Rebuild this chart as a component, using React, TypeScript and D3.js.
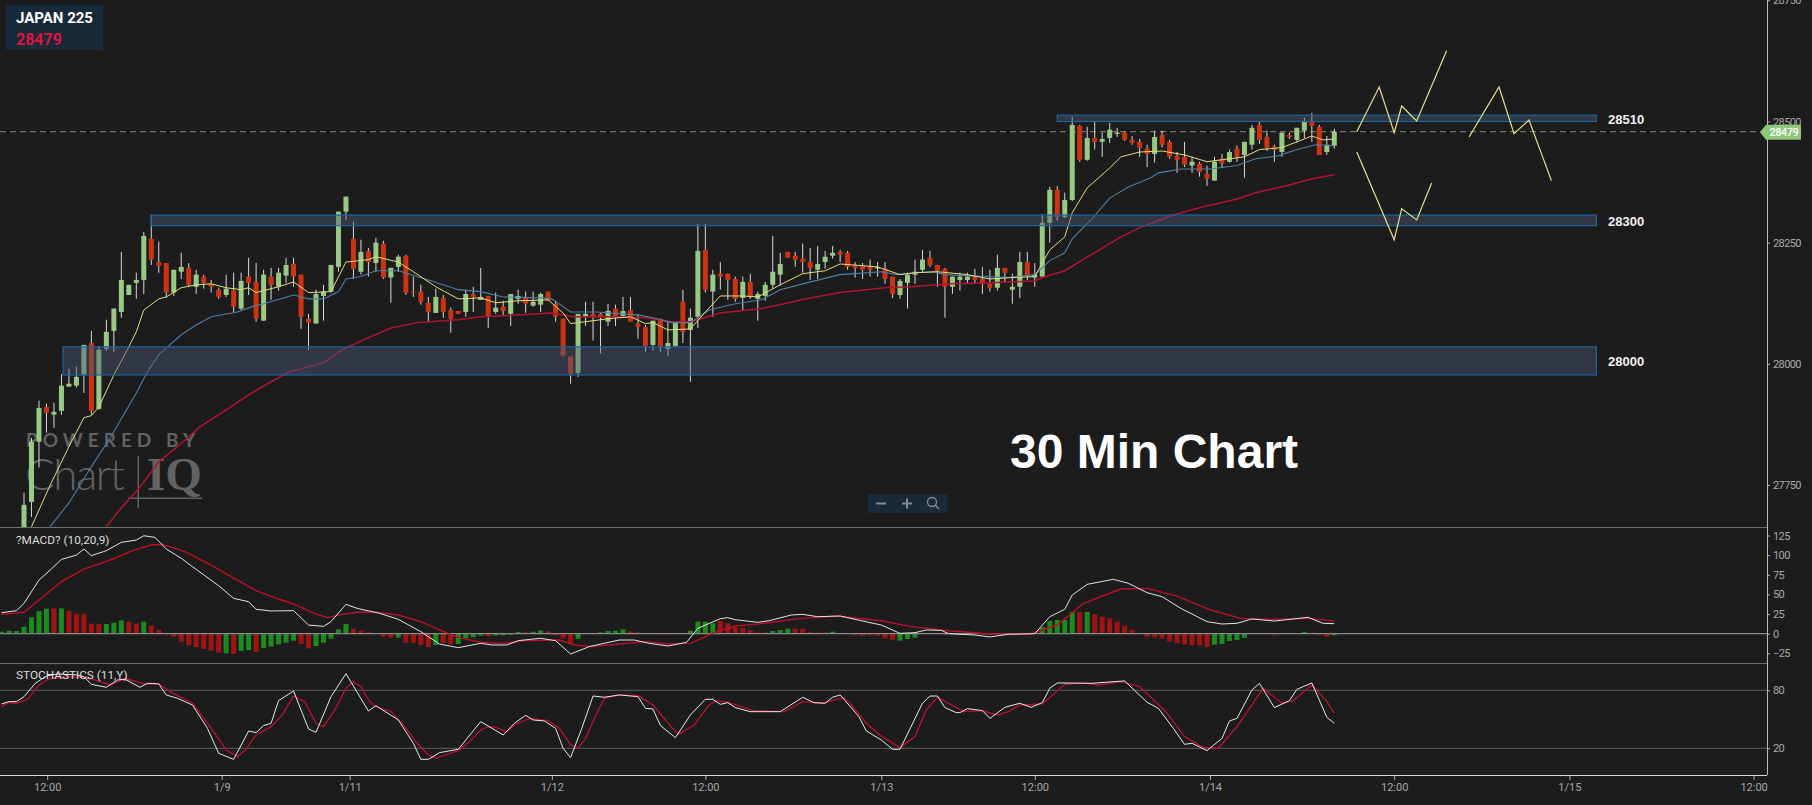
import React, { useEffect, useRef } from 'react'
import * as d3 from 'd3'

const opens = [27647,27715,27839,27911,27895,27903,27953,27955,27977,28043,
  27907,28031,28068,28107,28142,28167,28173,28258,28210,28208,
  28147,28190,28198,28159,28180,28165,28153,28142,28151,28114,
  28180,28169,28089,28180,28159,28182,28206,28184,28093,28083,
  28140,28149,28200,28314,28258,28190,28233,28208,28248,28178,
  28200,28223,28149,28149,28126,28105,28136,28111,28109,28107,
  28144,28132,28140,28107,28118,28103,28134,28136,28120,28122,
  28149,28124,28093,28015,27981,28097,28103,28103,28087,28114,
  28099,28111,28083,28076,28039,28093,28031,28037,28128,28070,
  28097,28235,28149,28186,28186,28175,28136,28169,28134,28140,
  28163,28184,28231,28223,28217,28210,28194,28210,28223,28231,
  28229,28204,28202,28200,28199,28196,28180,28142,28167,28184,
  28194,28219,28204,28196,28159,28173,28173,28180,28175,28165,
  28157,28198,28153,28159,28210,28178,28180,28291,28359,28303,
  28338,28491,28421,28466,28458,28466,28477,28477,28462,28458,
  28444,28433,28472,28458,28429,28427,28409,28413,28392,28378,
  28423,28417,28444,28431,28452,28493,28468,28448,28437,28472,
  28462,28481,28501,28489,28437,28450]

const highs = [27734,27847,27924,27918,27920,27979,27990,27994,28039,28068,
  28037,28091,28114,28231,28163,28188,28272,28307,28252,28208,
  28194,28229,28208,28194,28184,28173,28157,28184,28188,28188,
  28219,28208,28194,28198,28198,28219,28219,28184,28103,28153,
  28163,28204,28314,28345,28293,28256,28239,28260,28254,28198,
  28225,28225,28180,28163,28138,28155,28142,28116,28109,28153,
  28159,28198,28140,28147,28130,28144,28153,28149,28149,28147,
  28149,28130,28093,28015,28103,28128,28128,28105,28124,28122,
  28138,28138,28101,28080,28089,28093,28087,28087,28153,28114,
  28289,28289,28194,28210,28186,28180,28180,28186,28149,28169,
  28264,28229,28231,28231,28248,28239,28243,28233,28243,28235,
  28233,28210,28208,28215,28210,28210,28180,28175,28188,28215,
  28235,28233,28204,28198,28180,28188,28188,28196,28200,28194,
  28225,28198,28186,28231,28231,28208,28309,28365,28367,28353,
  28510,28493,28489,28499,28477,28497,28487,28479,28470,28464,
  28452,28481,28481,28462,28437,28458,28427,28417,28409,28427,
  28433,28442,28450,28458,28493,28501,28481,28452,28477,28477,
  28487,28508,28518,28493,28470,28485]

const lows = [27637,27684,27786,27858,27868,27895,27953,27951,27940,27895,
  27905,28027,28025,28095,28142,28134,28144,28204,28188,28136,
  28140,28175,28159,28144,28155,28147,28134,28138,28107,28111,
  28142,28087,28089,28132,28151,28167,28159,28072,28029,28083,
  28089,28147,28190,28297,28175,28184,28180,28190,28175,28126,
  28190,28142,28138,28122,28087,28105,28095,28064,28103,28097,
  28107,28132,28074,28103,28099,28078,28124,28105,28118,28107,
  28130,28087,28017,27959,27973,28078,28048,28021,28078,28078,
  28097,28087,28052,28025,28027,28025,28017,28035,28043,27963,
  28074,28147,28097,28153,28132,28128,28111,28134,28089,28130,
  28157,28161,28219,28200,28188,28173,28175,28196,28217,28210,
  28194,28178,28175,28180,28180,28165,28136,28134,28114,28165,
  28188,28200,28159,28095,28144,28151,28165,28167,28144,28149,
  28151,28169,28124,28136,28173,28159,28178,28250,28295,28301,
  28336,28417,28419,28442,28427,28456,28468,28460,28452,28427,
  28406,28415,28446,28423,28394,28406,28394,28386,28367,28378,
  28406,28415,28417,28384,28442,28454,28439,28417,28427,28464,
  28456,28466,28458,28431,28431,28444]

const closes = [27709,27839,27909,27899,27901,27955,27959,27973,28039,27903,
  28029,28066,28114,28173,28163,28173,28264,28215,28202,28147,
  28194,28200,28163,28184,28167,28159,28138,28155,28118,28171,
  28167,28093,28184,28163,28188,28204,28180,28097,28085,28144,
  28149,28204,28314,28345,28196,28231,28210,28250,28178,28198,
  28221,28147,28148,28128,28107,28138,28107,28093,28103,28144,
  28138,28138,28097,28116,28109,28144,28140,28124,28128,28144,
  28130,28097,28017,27979,28103,28103,28097,28095,28109,28097,
  28109,28087,28076,28037,28089,28035,28043,28087,28066,28095,
  28233,28153,28184,28180,28173,28134,28169,28138,28144,28163,
  28190,28206,28219,28215,28210,28198,28206,28221,28229,28225,
  28200,28198,28194,28194,28199,28175,28144,28171,28184,28190,
  28215,28204,28192,28159,28180,28180,28180,28173,28165,28157,
  28198,28188,28159,28210,28182,28184,28291,28359,28303,28338,
  28493,28421,28466,28458,28464,28483,28477,28462,28456,28446,
  28433,28468,28452,28427,28421,28411,28417,28396,28382,28417,
  28413,28437,28427,28458,28487,28462,28446,28442,28477,28468,
  28487,28499,28491,28431,28452,28479]

const yellowBars = [1,3.5,6,8,9,10,12,14,15,16,18,19,21,23,25,27,29,30,31,34,36,38,41,43,46,47,50,52,55,58,61,63,66,70,72,73,75,78,81,83,84,86,89,91,93,96,98,101,104,107,109,114,117,119,122,126,129,132,135,136,137,139,140,142,145,146.5,149,152,155,158,160,163,165,168,170,172,173.5,175]
const yellowValues = [27664,27750,27829,27889,27893,27911,27977,28035,28066,28111,28134,28138,28157,28163,28165,28157,28153,28157,28147,28159,28169,28147,28149,28210,28215,28221,28210,28190,28159,28134,28136,28126,28130,28132,28105,28083,28087,28093,28097,28083,28085,28070,28072,28107,28140,28140,28138,28163,28186,28192,28206,28200,28184,28188,28190,28184,28175,28178,28180,28208,28235,28262,28312,28363,28404,28427,28437,28439,28431,28417,28421,28427,28442,28446,28458,28470,28462,28464]

const blueBars = [3.5,6,9,11.5,15,16.5,18,21,23,25,28.5,30.5,32.5,36,38,40,42,43,45,47,50,54,58,61,64,69,70.5,73,76.5,82,84,86.5,89,91.5,95,98.5,101,104,109,114.5,116.5,119,121.5,123,128.5,131.5,135,137,139,140,142.5,145,147.5,150.5,151.5,154.5,158.5,162,164.5,167.5,170,172.5,175]
const blueValues = [27664,27713,27788,27847,27940,27984,28019,28060,28080,28097,28107,28118,28126,28142,28134,28134,28149,28175,28180,28192,28192,28173,28153,28149,28138,28136,28134,28107,28107,28101,28095,28085,28085,28111,28124,28132,28153,28165,28184,28190,28184,28188,28190,28184,28180,28178,28184,28213,28229,28258,28297,28342,28365,28384,28394,28402,28402,28409,28423,28429,28442,28452,28450]

const redBars = [11,13,15.5,18,20.5,23.5,27,30,33,35.5,40,42.5,46,49,52.5,58,61,66.5,70.5,73.5,78.5,83,86.5,89,93,98.5,101.5,105,109,115,118.5,123.5,128.5,135,136,139,142.5,146.5,149,153.5,157,162,164.5,168.5,172,175]
const redValues = [27664,27703,27746,27798,27829,27870,27905,27936,27963,27984,28002,28029,28054,28074,28085,28091,28097,28101,28105,28097,28097,28095,28087,28087,28105,28114,28124,28136,28147,28157,28159,28165,28167,28171,28178,28192,28225,28262,28281,28307,28322,28340,28353,28367,28382,28390]

// hand drawn forecast paths
const forecastA: [number, number][] = [[178,28479],[181,28571],[183,28477],[184,28532],[186,28501],[190,28646]]
const forecastB: [number, number][] = [[193,28468],[197,28571],[199,28475],[201,28503],[204,28378]]
const forecastC: [number, number][] = [[178,28437],[183,28256],[184,28320],[186,28297],[188,28373]]

const zoneLabels = ['28510', '28300', '28000']
const zoneStarts = [138, 17, 5.2]
const zoneTops = [28513, 28307, 28035]
const zoneBottoms = [28500, 28285, 27977]
const zoneEnd = 210

const macdBars = [-3,-1,0,2,3.5,5,7,8,9,11,13,15,16,17.5,19,21,22.5,26,28,30,31,33,36,38,40,41,43,44.5,47.5,50,53,55.5,58,61,62.5,64.5,66,69,71,73,75.5,77.5,79.5,81.5,83.5,86,88.5,90,93,94,95,98,99.5,102.5,104,106,109,112,114.5,117,119,120.5,122.5,123.5,127,129,131.5,135,137,139,140,142,145.5,147.5,150,152,154.5,158,160,162,164,167,171.5,173.5,175]
const macdValues = [26.7,29.3,38.6,68.3,81,94.6,100,107.8,99.3,105.7,116.3,119.2,124.7,122.6,107.8,95.9,85.3,61.1,45,40.7,31,28.9,29.3,11,9.3,15.3,37.3,32.2,25.9,18.2,2.5,-13.2,-17.8,-12.3,-14.4,-14.4,-8.9,-5.9,-8.9,-25.9,-16.5,-12.3,-8.1,-8.1,-12.3,-15.7,-11,6.8,19.1,20.4,17.8,14.4,16.5,23.8,24.6,21.6,22.5,16.1,11,0.4,1.3,4.7,4.2,0,-1.7,-4.2,-0.8,0,21.6,31,49.2,62.8,69.2,64.1,52.2,47.1,32.2,15.3,12.3,13.2,18.7,16.1,20.8,13.2,12.7]

const signalBars = [-3,0,2,5,8,11.5,14.5,17,18.5,21.5,25,28.5,31,34,36,38.5,40.5,42.5,44.5,47,50,53,55.5,58,61,64,67,71.5,73.5,76,79.5,83,86,89,92.5,95,99,103.5,108.5,114.5,118.5,123.5,129,134.5,138,141.5,146.5,150,154,158.5,162.5,166.5,171.5,175]
const signalValues = [24.6,27.2,42.9,66.2,82.3,93.8,105.7,112.9,113.7,104.4,87.4,68.3,54.7,44.1,37.8,26.7,20.4,24.6,27.2,27.2,23.8,15.3,4.7,-4.7,-11,-12.3,-8.9,-8.1,-14.4,-16.5,-13.2,-10.2,-13.2,-12.3,2.5,9.8,13.2,19.1,22.5,16.5,8.9,3.8,-0.4,-0.4,11,38.6,56.9,57.7,47.9,30.1,19.5,18.2,19.5,16.1]

// histogram runs from bar -3 to bar 175
const histStart = -3
const histValues = [2.5,3.8,3.4,
  8.9,20.8,28.9,31.8,32.2,32.2,29.3,25,25,12.7,
  12.3,12.3,14,17,15.3,12.7,15.3,10.2,5.1,-0.8,
  -3.8,-10.2,-14.9,-17,-19.5,-21.6,-24.2,-25,-25.9,-22,
  -20.8,-23.3,-18.2,-16.5,-13.6,-11.5,-8.9,-13.2,-18.7,-15.7,
  -11.5,-6.4,5.5,12.3,6.4,3.8,1.7,0,-3.8,-5.1,
  -5.1,-11.5,-11.5,-14.4,-17,-14.4,-11.9,-13.6,-13.2,-5.9,
  -4.7,-2.5,-3.4,-2.1,-2.1,-1.3,2.1,1.7,2.5,4.2,
  3,-1.7,-5.9,-12.3,-6.4,0,0,1.7,3.4,3.8,
  5.5,3,1.7,0,0,-0.8,-0.8,0,0,3.8,
  15.3,15.3,13.2,16.1,13.2,8.1,7.6,4.7,1.7,1.7,
  3.4,4.7,6.4,6.4,6.4,2.1,1.7,1.7,2.5,0,
  0,-1.7,-2.5,-1.7,-2.5,-5.9,-8,-8.9,-6.8,-5.1,
  0,0,0,-1.7,-1,-1,-1,-0.5,0,0,
  0,0,0,0,0,0,8.1,16.1,17.4,17.4,
  27.6,27.6,27.6,24.6,21.6,19.5,15.3,10.2,4.7,0,
  -3.8,-4.7,-5.9,-10.2,-12.3,-13.6,-14.9,-14.9,-17,-14,
  -13.2,-9.3,-8.1,-5.5,0,0,0,-1.3,0,0,
  0,2.1,1.3,-1.3,-3.8,-2.1]
const histColors = 'ggg' + 'ggggrgrrrr' + 'rgggrrgrrr' + 'rrrrrrrgrg' + 'grgggggrrg' + 'ggggrrrrrr' +
  'grrrrgrrgg' + 'ggrggggrgg' + 'rrrrgggggg' + 'grrrrrrrrg' + 'gggrrrrrrr' + 'gggrrrrrgg' +
  'rrrrrrrggg' + 'gggrgggggg' + 'gggggggggg' + 'grgrrrrrrr' + 'rrrrrrrrrg' + 'gggggggrgg' + 'ggrrrg'

const stochKBars = [-3,-2,-1,0,1.5,3,4.5,7,8,9,11,12.5,13.5,15.5,16.5,18,19,20.5,22.5,24.5,26,28,30,31,32,33,34,36,38,39,41,43,46,47,50,52,53,54,55.5,58,61,62.5,64,65.5,67,68,69.5,71,72,73,74.5,76,77.5,79.5,82,83,84,85,87,89,91,92,93,94,95,97,101,104,105.5,107,108,109,111.5,112.5,114.5,116,117,120,121,122,123,124.5,125,126,128,129,131,133,134.5,136,137,138,142.5,147,150,151.5,153.5,155,156,158,160,161,162,164,165,167,169,170,172,174,175]
const stochKValues = [65.9,68.3,68.3,73.4,87.2,94.8,96.9,95.9,94.1,86.2,83.1,90.7,91.4,83.1,87.2,86.6,75.2,71.7,64.8,40.7,14.8,8.6,37.9,36.2,43.5,45.9,69.3,79.3,40,36.6,73.4,97.2,58.6,64.1,49.3,25.2,8.6,8.6,15.5,19,47.6,40.7,33.8,45.9,54.1,49.3,48.3,40.7,20,10.4,40.7,74.1,72.8,75.2,73.4,61.4,60.7,43.5,31,54.5,70.7,70.7,65.5,67.2,62.1,57.9,57.9,72.8,67.2,66.6,72.8,75.2,52.8,37.9,28.6,19,19,66.6,74.1,74.1,62.1,56.9,56.9,61,59,51,62.4,66.6,62.4,67.2,82.1,87.6,87.2,89.7,67.6,61.4,40.7,24.1,25.2,17.6,30.3,48.3,51,80.3,87.2,62.1,69.3,81,87.6,52.1,45.9]

const stochDBars = [-3,-2,-1,0.5,2,3.5,5,8,9.5,11.5,13.5,15,16,18,19.5,22.5,25,27,28.5,29.5,31,33,34.5,36,37.5,39,40,41.5,43,44,45,46,47,49,50.5,52.5,54,55,58,59.5,61,62,63,64.5,65.5,67.5,70,71.5,73,74,75,76.5,77.5,79.5,82,84,87,87.5,89.5,91.5,92.5,94,97.5,101.5,104,106.5,109.5,110.5,112.5,114.5,117,119,120.5,122,124.5,125.5,128,130,131.5,133,136,139,141.5,143.5,146.5,149,152.5,155,157.5,159.5,162,165.5,168,169.5,172,174,175]
const stochDValues = [63.1,67.6,66.6,70.7,85.5,92.4,93.4,93.4,90.7,85.5,92.4,89,86.6,86.6,78.6,66.6,40.7,18.3,11.4,17.6,33.8,42.4,54.5,74.1,68.3,45.9,42.4,59.7,82.1,89,83.8,70,63.1,57.9,45.9,25.2,13.1,9.7,17.6,26.9,39,42.4,41.7,37.2,44.1,51,48.6,40.7,23.5,20,30.3,56.2,71.7,75.2,74.5,64.8,37.2,34.8,44.1,64.8,69.3,67.6,59,57.9,68.3,66.6,72.4,64.8,45.9,32.8,20.7,32.1,59.7,72.8,62.4,57.9,59,54.5,57.9,64.8,65.9,86.2,87.9,85.5,89,83.8,57.9,32.1,21,20,42.4,82.1,66.6,69,85.5,68.3,56.2]

const priceTicks = [27750, 28000, 28250, 28500, 28750]
const macdTicks = [125, 100, 75, 50, 25, 0, -25]
const stochTicks = [80, 20]
const timeTickBars = [3.1, 26.4, 43.5, 70.5, 91, 114.5, 135, 158.4, 183, 206.4, 231]
const timeTickLabels = ['12:00', '1/9', '1/11', '1/12', '12:00', '1/13', '12:00', '1/14', '12:00', '1/15', '12:00']

const symbol = 'JAPAN 225'
const lastPrice = 28479

const WIDTH = 1812
const HEIGHT = 805
const AXIS_X = 1767
const MAIN_BOTTOM = 527
const MACD_BOTTOM = 663
const STOCH_BOTTOM = 775
const BG = '#1c1c1c'
const FONT = 'Roboto, sans-serif'
const ARIAL = '"Liberation Sans", Arial, sans-serif'

const App: React.FC = () => {
  const ref = useRef<SVGSVGElement>(null)

  useEffect(() => {
    if (!ref.current) return
    const svg = d3.select(ref.current)
    svg.selectAll('*').remove()

    const x = d3.scaleLinear().domain([0, 175]).range([24, 1334.3])
    const yPrice = d3.scaleLinear().domain([27750, 28750]).range([485, 0.3])
    const yMacd = d3.scaleLinear().domain([-25, 125]).range([653.3, 535.5])
    const yStoch = d3.scaleLinear().domain([20, 80]).range([748.3, 690.3])

    svg.append('rect').attr('width', WIDTH).attr('height', HEIGHT).attr('fill', BG)

    const clip = svg.append('defs')
    clip.append('clipPath').attr('id', 'main-clip').append('rect')
      .attr('width', AXIS_X).attr('height', MAIN_BOTTOM)

    const priceLine = d3.line<[number, number]>().x(d => x(d[0])).y(d => yPrice(d[1]))
    const macdLine = d3.line<[number, number]>().x(d => x(d[0])).y(d => yMacd(d[1]))
    const stochLine = d3.line<[number, number]>().x(d => x(d[0])).y(d => yStoch(d[1]))

    const main = svg.append('g').attr('clip-path', 'url(#main-clip)')

    // watermark
    const mark = main.append('g').attr('fill', '#626262')
    mark.append('text').text('POWERED BY').attr('x', 26).attr('y', 447)
      .attr('font-family', 'Lato, sans-serif').attr('font-size', 19).attr('font-weight', 700).attr('letter-spacing', 5)
    mark.append('text').text('Chart').attr('x', 25).attr('y', 490)
      .attr('font-family', 'Lato, sans-serif').attr('font-size', 44).attr('font-weight', 300).attr('letter-spacing', -1.5)
    mark.append('text').text('IQ').attr('x', 147).attr('y', 490)
      .attr('font-family', '"Liberation Serif", serif').attr('font-size', 47).attr('font-weight', 700)
    mark.append('rect').attr('x', 137.5).attr('y', 456).attr('width', 1.5).attr('height', 52)
    mark.append('rect').attr('x', 128).attr('y', 497.5).attr('width', 74).attr('height', 1.5)

    // last price
    main.append('line').attr('x1', 0).attr('x2', AXIS_X)
      .attr('y1', yPrice(lastPrice)).attr('y2', yPrice(lastPrice))
      .attr('stroke', '#71745f').attr('stroke-width', 1.2).attr('stroke-dasharray', '6,4')

    // candles
    const candles = main.append('g').selectAll('g').data(d3.range(opens.length)).enter().append('g')
    candles.append('line')
      .attr('x1', i => x(i)).attr('x2', i => x(i))
      .attr('y1', i => yPrice(highs[i])).attr('y2', i => yPrice(lows[i]))
      .attr('stroke', '#d8d8d8').attr('stroke-width', 1)
    candles.append('rect')
      .attr('x', i => x(i) - 2.5).attr('width', 5)
      .attr('y', i => yPrice(Math.max(opens[i], closes[i])))
      .attr('height', i => Math.max(1, Math.abs(yPrice(opens[i]) - yPrice(closes[i]))))
      .attr('fill', i => (closes[i] < opens[i] ? '#cc3310' : closes[i] === opens[i] ? '#e0e0e0' : '#98c985'))

    // moving averages
    const overlays: [number[], number[], string, number][] = [
      [redBars, redValues, '#b01530', 1.5],
      [blueBars, blueValues, '#4f7fa6', 1.1],
      [yellowBars, yellowValues, '#e4dc7c', 1],
    ]
    overlays.forEach(([bars, values, color, w]) => {
      main.append('path')
        .attr('d', priceLine(d3.zip(bars, values) as [number, number][]))
        .attr('fill', 'none').attr('stroke', color).attr('stroke-width', w)
    })

    // support / resistance zones sit on top of the candles
    zoneLabels.forEach((label, i) => {
      const top = yPrice(zoneTops[i])
      const bottom = yPrice(zoneBottoms[i])
      main.append('rect')
        .attr('x', x(zoneStarts[i])).attr('width', x(zoneEnd) - x(zoneStarts[i]))
        .attr('y', top).attr('height', bottom - top)
        .attr('fill', 'rgba(75,88,120,0.45)').attr('stroke', '#1c659f').attr('stroke-width', 1.2)
      main.append('text').text(label)
        .attr('x', 1608).attr('y', (top + bottom) / 2).attr('dy', '0.4em')
        .attr('fill', '#f0f0f0').attr('font-family', ARIAL).attr('font-weight', 700).attr('font-size', 13)
    })

    ;[forecastA, forecastB, forecastC].forEach(path => {
      main.append('path').attr('d', priceLine(path))
        .attr('fill', 'none').attr('stroke', '#e8e08a').attr('stroke-width', 1.2)
    })

    main.append('text').text('30 Min Chart')
      .attr('x', 1010).attr('y', 468)
      .attr('fill', '#ffffff').attr('font-family', ARIAL).attr('font-weight', 700).attr('font-size', 48)

    // zoom control
    const zoomBox = svg.append('g')
    zoomBox.append('rect').attr('x', 868).attr('y', 494).attr('width', 79).attr('height', 19).attr('fill', '#1b2a39')
    zoomBox.append('rect').attr('x', 876).attr('y', 502.5).attr('width', 10).attr('height', 2).attr('fill', '#7f8b96')
    zoomBox.append('rect').attr('x', 902).attr('y', 502.5).attr('width', 10).attr('height', 2).attr('fill', '#7f8b96')
    zoomBox.append('rect').attr('x', 906).attr('y', 498.5).attr('width', 2).attr('height', 10).attr('fill', '#7f8b96')
    zoomBox.append('circle').attr('cx', 932).attr('cy', 502).attr('r', 4.5)
      .attr('fill', 'none').attr('stroke', '#7f8b96').attr('stroke-width', 1.3)
    zoomBox.append('line').attr('x1', 935).attr('y1', 505).attr('x2', 939).attr('y2', 509)
      .attr('stroke', '#7f8b96').attr('stroke-width', 1.5)

    // header
    svg.append('rect').attr('x', 6).attr('y', 5).attr('width', 97).attr('height', 45).attr('fill', '#18293a')
    svg.append('text').text(symbol).attr('x', 16).attr('y', 23)
      .attr('fill', '#ffffff').attr('font-family', FONT).attr('font-weight', 700).attr('font-size', 15)
    svg.append('text').text(String(lastPrice)).attr('x', 16).attr('y', 45)
      .attr('fill', '#dc143c').attr('font-family', FONT).attr('font-weight', 700).attr('font-size', 16)

    // panel separators
    ;[MAIN_BOTTOM, MACD_BOTTOM].forEach(y => {
      svg.append('line').attr('x1', 0).attr('x2', AXIS_X).attr('y1', y + 0.5).attr('y2', y + 0.5)
        .attr('stroke', '#6e6e6e')
    })

    // macd panel
    const macd = svg.append('g')
    macd.append('text').text('?MACD? (10,20,9)').attr('x', 16).attr('y', 544)
      .attr('fill', '#dddddd').attr('font-family', FONT).attr('font-size', 11.8)
    macd.selectAll('rect').data(histValues).enter().append('rect')
      .attr('x', (_, i) => x(i + histStart) - 2.5).attr('width', 5)
      .attr('y', d => Math.min(yMacd(d), yMacd(0)))
      .attr('height', d => Math.abs(yMacd(d) - yMacd(0)))
      .attr('fill', (_, i) => (histColors[i] === 'g' ? '#1c8a1c' : '#a01414'))
    macd.append('line').attr('x1', 0).attr('x2', AXIS_X).attr('y1', yMacd(0)).attr('y2', yMacd(0))
      .attr('stroke', '#8a8a8a').attr('stroke-width', 1.3)
    macd.append('path').attr('d', macdLine(d3.zip(signalBars, signalValues) as [number, number][]))
      .attr('fill', 'none').attr('stroke', '#b81224').attr('stroke-width', 1.4)
    macd.append('path').attr('d', macdLine(d3.zip(macdBars, macdValues) as [number, number][]))
      .attr('fill', 'none').attr('stroke', '#e4e4e4').attr('stroke-width', 1)

    // stochastics panel
    const stoch = svg.append('g')
    stochTicks.forEach(t => {
      stoch.append('line').attr('x1', 0).attr('x2', AXIS_X).attr('y1', yStoch(t)).attr('y2', yStoch(t))
        .attr('stroke', '#5e5e5e')
    })
    stoch.append('path').attr('d', stochLine(d3.zip(stochDBars, stochDValues) as [number, number][]))
      .attr('fill', 'none').attr('stroke', '#b81230').attr('stroke-width', 1.3)
    stoch.append('path').attr('d', stochLine(d3.zip(stochKBars, stochKValues) as [number, number][]))
      .attr('fill', 'none').attr('stroke', '#e8e8e8').attr('stroke-width', 1)
    stoch.append('text').text('STOCHASTICS (11,Y)').attr('x', 16).attr('y', 679)
      .attr('fill', '#dddddd').attr('font-family', FONT).attr('font-size', 11.8)

    // axes
    const styleAxis = (g: d3.Selection<SVGGElement, unknown, null, undefined>) => {
      g.select('.domain').remove()
      g.selectAll('.tick line').attr('stroke', '#b0b0b0')
      g.selectAll('.tick text').attr('fill', '#a8a8a8').attr('font-family', FONT).attr('font-size', 11)
    }
    const priceAxis = d3.axisRight(yPrice).tickValues(priceTicks).tickSize(3).tickPadding(3).tickFormat(d3.format('d'))
    const macdAxis = d3.axisRight(yMacd).tickValues(macdTicks).tickSize(3).tickPadding(3).tickFormat(d3.format('d'))
    const stochAxis = d3.axisRight(yStoch).tickValues(stochTicks).tickSize(3).tickPadding(3).tickFormat(d3.format('d'))
    ;[priceAxis, macdAxis, stochAxis].forEach(axis => {
      svg.append('g').attr('transform', `translate(${AXIS_X},0)`).call(axis).call(styleAxis)
        .selectAll('.tick text').attr('letter-spacing', -0.6)
    })
    const timeAxis = d3.axisBottom(x).tickValues(timeTickBars).tickSize(5).tickPadding(3)
      .tickFormat((_, i) => timeTickLabels[i])
    svg.append('g').attr('transform', `translate(0,${STOCH_BOTTOM})`).call(timeAxis).call(styleAxis)

    svg.append('line').attr('x1', AXIS_X + 0.5).attr('x2', AXIS_X + 0.5).attr('y1', 0).attr('y2', STOCH_BOTTOM)
      .attr('stroke', '#b8b8b8')
    svg.append('line').attr('x1', 0).attr('x2', AXIS_X).attr('y1', STOCH_BOTTOM + 0.5).attr('y2', STOCH_BOTTOM + 0.5)
      .attr('stroke', '#d8d8d8')

    // last price tag
    const tagY = yPrice(lastPrice)
    svg.append('path')
      .attr('d', `M1760,${tagY + 0.5}L1766,${tagY - 7}H1801V${tagY + 8}H1766Z`)
      .attr('fill', '#8fc87c')
    svg.append('text').text(String(lastPrice)).attr('x', 1769.5).attr('y', tagY + 4.6)
      .attr('fill', '#ffffff').attr('font-family', FONT).attr('font-weight', 500).attr('font-size', 11)
      .attr('letter-spacing', -0.5)
  }, [])

  return (
    <>
      <style>{`body{margin:0;background:${BG}}`}</style>
      <svg ref={ref} width={WIDTH} height={HEIGHT} style={{ display: 'block' }}></svg>
    </>
  )
}

export default App
